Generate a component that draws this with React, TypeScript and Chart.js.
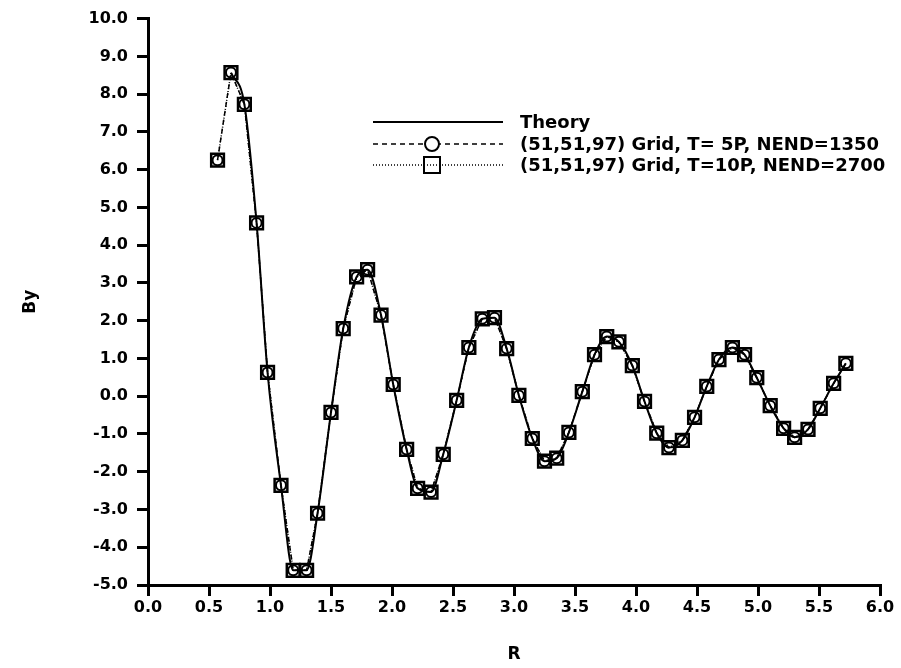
import React, { useEffect, useRef } from "react";
import { Chart, registerables } from "chart.js";

Chart.register(...registerables);

const rValues = [0.57, 0.68, 0.79, 0.89, 0.98, 1.09, 1.19, 1.3, 1.39, 1.5, 1.6, 1.71, 1.8, 1.91, 2.01, 2.12, 2.21, 2.32, 2.42, 2.53, 2.63, 2.74, 2.84, 2.94, 3.04, 3.15, 3.25, 3.35, 3.45, 3.56, 3.66, 3.76, 3.86, 3.97, 4.07, 4.17, 4.27, 4.38, 4.48, 4.58, 4.68, 4.79, 4.89, 4.99, 5.1, 5.21, 5.3, 5.41, 5.51, 5.62, 5.72];

const grid5PValues = [6.25, 8.57, 7.73, 4.59, 0.63, -2.36, -4.61, -4.61, -3.1, -0.43, 1.79, 3.16, 3.35, 2.15, 0.31, -1.41, -2.44, -2.54, -1.54, -0.11, 1.29, 2.05, 2.08, 1.26, 0.02, -1.12, -1.72, -1.64, -0.96, 0.12, 1.1, 1.58, 1.44, 0.81, -0.14, -0.98, -1.36, -1.17, -0.56, 0.26, 0.97, 1.29, 1.1, 0.49, -0.25, -0.85, -1.09, -0.88, -0.32, 0.34, 0.87];

const grid10PValues = [6.25, 8.57, 7.73, 4.59, 0.63, -2.36, -4.61, -4.61, -3.1, -0.43, 1.79, 3.16, 3.35, 2.15, 0.31, -1.41, -2.44, -2.54, -1.54, -0.11, 1.29, 2.05, 2.08, 1.26, 0.02, -1.12, -1.72, -1.64, -0.96, 0.12, 1.1, 1.58, 1.44, 0.81, -0.14, -0.98, -1.36, -1.17, -0.56, 0.26, 0.97, 1.29, 1.1, 0.49, -0.25, -0.85, -1.09, -0.88, -0.32, 0.34, 0.87];

const theoryR = rValues.slice(1);
const theoryValues = [8.57, 7.73, 4.59, 0.63, -2.36, -4.61, -4.61, -3.1, -0.43, 1.79, 3.16, 3.35, 2.15, 0.31, -1.41, -2.44, -2.54, -1.54, -0.11, 1.29, 2.05, 2.08, 1.26, 0.02, -1.12, -1.72, -1.64, -0.96, 0.12, 1.1, 1.58, 1.44, 0.81, -0.14, -0.98, -1.36, -1.17, -0.56, 0.26, 0.97, 1.29, 1.1, 0.49, -0.25, -0.85, -1.09, -0.88, -0.32, 0.34, 0.87];

const seriesLabels = [
  "Theory",
  "(51,51,97) Grid, T= 5P, NEND=1350",
  "(51,51,97) Grid, T=10P, NEND=2700",
];

const FONT = "'DejaVu Sans', sans-serif";

const legendPlugin = {
  id: "customLegend",
  afterDraw(chart: any) {
    const ctx = chart.ctx as CanvasRenderingContext2D;
    const x0 = 373;
    const x1 = 503;
    const mx = 432;
    const rows = [122, 144, 165];
    const textX = 520;
    ctx.save();
    ctx.strokeStyle = "#000";
    ctx.fillStyle = "#000";
    ctx.font = `bold 18px ${FONT}`;
    ctx.textBaseline = "middle";
    ctx.textAlign = "left";
    ctx.lineWidth = 2;
    ctx.setLineDash([]);
    ctx.beginPath();
    ctx.moveTo(x0, rows[0]);
    ctx.lineTo(x1, rows[0]);
    ctx.stroke();
    ctx.lineWidth = 1.5;
    ctx.setLineDash([5, 4]);
    ctx.beginPath();
    ctx.moveTo(x0, rows[1]);
    ctx.lineTo(x1, rows[1]);
    ctx.stroke();
    ctx.setLineDash([]);
    ctx.lineWidth = 2;
    ctx.fillStyle = "#fff";
    ctx.beginPath();
    ctx.arc(mx, rows[1], 7, 0, Math.PI * 2);
    ctx.fill();
    ctx.stroke();
    ctx.lineWidth = 1.5;
    ctx.setLineDash([1, 2]);
    ctx.beginPath();
    ctx.moveTo(x0, rows[2]);
    ctx.lineTo(x1, rows[2]);
    ctx.stroke();
    ctx.setLineDash([]);
    ctx.lineWidth = 2;
    ctx.strokeRect(mx - 8, rows[2] - 8, 16, 16);
    ctx.fillStyle = "#000";
    seriesLabels.forEach((t, i) => ctx.fillText(t, textX, rows[i] + 1));
    ctx.restore();
  },
};

export default function App() {
  const ref = useRef<HTMLCanvasElement>(null);
  useEffect(() => {
    document.body.style.margin = "0";
    const canvas = ref.current!;
    const axisCommon = {
      grid: {
        display: true,
        drawOnChartArea: false,
        drawTicks: true,
        tickLength: 11,
        lineWidth: 3,
        tickWidth: 3,
        tickColor: "#000",
        color: "#000",
      },
      border: { display: true, color: "#000", width: 3 },
    };
    const chart = new Chart(canvas, {
      type: "line",
      data: {
        datasets: [
          {
            label: seriesLabels[0],
            data: theoryR.map((r, i) => ({ x: r, y: theoryValues[i] })),
            borderColor: "#000",
            borderWidth: 2,
            pointRadius: 0,
            cubicInterpolationMode: "monotone",
            fill: false,
          },
          {
            label: seriesLabels[1],
            data: rValues.map((r, i) => ({ x: r, y: grid5PValues[i] })),
            borderColor: "#000",
            borderWidth: 1.5,
            borderDash: [5, 4],
            pointStyle: "circle",
            pointRadius: 5,
            pointBorderWidth: 2,
            pointBorderColor: "#000",
            pointBackgroundColor: "rgba(0,0,0,0)",
            tension: 0,
            fill: false,
          },
          {
            label: seriesLabels[2],
            data: rValues.map((r, i) => ({ x: r, y: grid10PValues[i] })),
            borderColor: "#000",
            borderWidth: 1.5,
            borderDash: [1, 2],
            pointStyle: "rect",
            pointRadius: 9,
            pointBorderWidth: 2.5,
            pointBorderColor: "#000",
            pointBackgroundColor: "rgba(0,0,0,0)",
            tension: 0,
            fill: false,
          },
        ],
      },
      options: {
        responsive: false,
        animation: false,
        layout: { padding: { left: 0, right: 21, top: 17, bottom: 0 } },
        plugins: { legend: { display: false }, tooltip: { enabled: false } },
        scales: {
          x: {
            type: "linear",
            min: 0,
            max: 6,
            ...axisCommon,
            ticks: {
              stepSize: 0.5,
              color: "#000",
              padding: 2,
              maxRotation: 0,
              font: { family: FONT, size: 16, weight: "bold" },
              callback: (v: any) => Number(v).toFixed(1),
            },
            title: {
              display: true,
              text: "R",
              color: "#000",
              font: { family: FONT, size: 17, weight: "bold" },
              padding: { top: 0, bottom: 3 },
            },
            afterFit: (s: any) => {
              s.height = 83;
            },
          },
          y: {
            type: "linear",
            min: -5,
            max: 10,
            ...axisCommon,
            ticks: {
              stepSize: 1,
              color: "#000",
              padding: 9,
              font: { family: FONT, size: 16, weight: "bold" },
              callback: (v: any) => Number(v).toFixed(1),
            },
            title: {
              display: true,
              text: "By",
              color: "#000",
              font: { family: FONT, size: 17, weight: "bold" },
              padding: { top: 20, bottom: 0 },
            },
            afterFit: (s: any) => {
              s.width = 148;
            },
          },
        },
      },
      plugins: [legendPlugin],
    });
    return () => chart.destroy();
  }, []);
  return (
    <div style={{ width: 901, height: 668 }}>
      <canvas ref={ref} width={901} height={668} style={{ width: 901, height: 668, display: "block" }} />
    </div>
  );
}
